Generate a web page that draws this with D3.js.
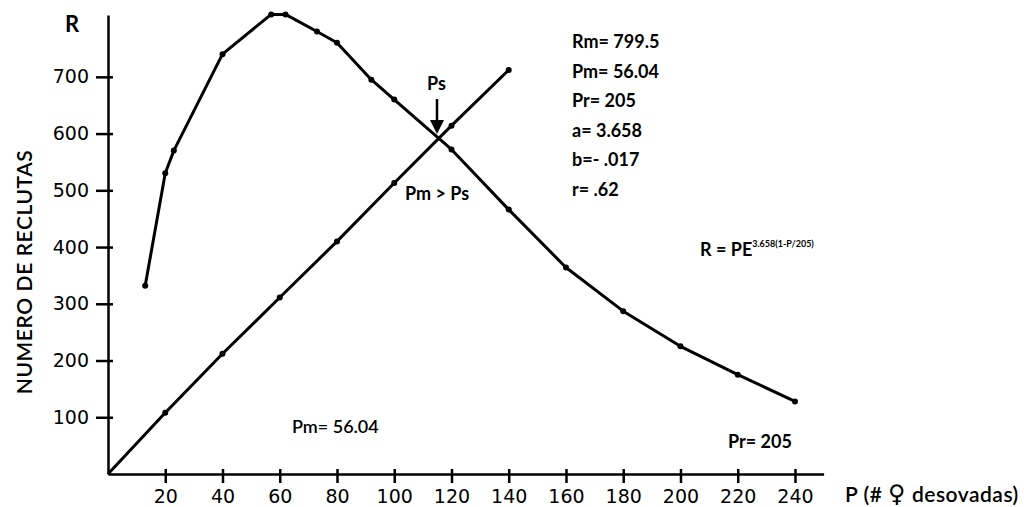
<!DOCTYPE html>
<html lang="es">
<head>
<meta charset="UTF-8">
<title>Reclutas vs desovadas</title>
<script src="https://cdn.jsdelivr.net/npm/d3@7/dist/d3.min.js"></script>
<style>
    body { margin: 0; background: #fff; }
    svg { display: block; font-family: Lato, "Open Sans", sans-serif; }
    path.line { fill: none; stroke: #000; stroke-width: 3px; stroke-linejoin: round; }
    .axis path, .axis line { stroke: #000; stroke-width: 2.5px; }
    .axis text { font-size: 19px; font-weight: normal; fill: #000; font-family: "DejaVu Sans", sans-serif; }
    text.note { font-weight: bold; fill: #000; }
</style>
</head>
<body>
<svg width="1024" height="507"></svg>
<script>
    // curva de reclutamiento (Ricker)
    let recP = [13, 20, 23, 40, 57, 62, 73, 80, 92, 100, 120, 140, 160, 180, 200, 220, 240]
    let recR = [332, 530, 570, 740, 810, 810, 780, 760, 695, 660, 572, 466, 364, 287, 225, 175, 128]
    // linea de reemplazo
    let repP = [0, 20, 40, 60, 80, 100, 120, 140]
    let repR = [0, 108, 212, 311, 410, 513, 614, 712]

    let xTicks = [20, 40, 60, 80, 100, 120, 140, 160, 180, 200, 220, 240]
    let yTicks = [100, 200, 300, 400, 500, 600, 700]
    let stats = ["Rm= 799.5", "Pm= 56.04", "Pr= 205", "a= 3.658", "b=- .017", "r= .62"]

    let svg = d3.select('svg')

    let xScale = d3.scaleLinear().domain([0, 250]).range([108, 823.6])
    let yScale = d3.scaleLinear().domain([0, 809]).range([474, 15])

    // ejes
    let xAxis = svg.append('g').attr('class', 'axis')
        .attr('transform', 'translate(0,' + yScale(0) + ')')
        .call(d3.axisBottom(xScale).tickValues(xTicks).tickSizeOuter(0))
    xAxis.selectAll('.tick line').attr('y1', -5).attr('y2', 9)
    xAxis.selectAll('.tick text').attr('y', 29).attr('dy', 0)

    let yAxis = svg.append('g').attr('class', 'axis')
        .attr('transform', 'translate(' + xScale(0) + ',0)')
        .call(d3.axisLeft(yScale).tickValues(yTicks).tickSizeOuter(0))
    yAxis.selectAll('.tick line').attr('x1', 5).attr('x2', -12)
    yAxis.selectAll('.tick text').attr('x', -19)

    // lineas
    let recData = d3.zip(recP, recR)
    let repData = d3.zip(repP, repR)
    let line = d3.line()
        .x(function (d) { return xScale(d[0]) })
        .y(function (d) { return yScale(d[1]) })

    svg.append('path').attr('class', 'line').attr('d', line(recData))
    svg.append('path').attr('class', 'line').attr('d', line(repData))

    svg.append('g').selectAll('circle')
        .data(recData.concat(repData.slice(1)))
        .join('circle')
        .attr('cx', function (d) { return xScale(d[0]) })
        .attr('cy', function (d) { return yScale(d[1]) })
        .attr('r', 3)
        .attr('fill', '#000')

    // textos
    svg.append('text').attr('class', 'note').attr('x', 65).attr('y', 32)
        .style('font-size', '22px').text('R')

    svg.append('text').attr('class', 'note')
        .attr('transform', 'translate(32,272) rotate(-90)')
        .attr('text-anchor', 'middle')
        .style('font-size', '21px').style('font-weight', 600)
        .style('letter-spacing', '0.6px')
        .text('NUMERO DE RECLUTAS')

    svg.append('g').selectAll('text')
        .data(stats)
        .join('text')
        .attr('class', 'note')
        .attr('x', 572)
        .attr('y', function (d, i) { return 48 + i * 29.6 })
        .style('font-size', '18px')
        .text(function (d) { return d })

    svg.append('text').attr('class', 'note').attr('x', 427).attr('y', 90)
        .style('font-size', '18px').text('Ps')
    svg.append('line').attr('x1', 437).attr('x2', 437).attr('y1', 99).attr('y2', 124)
        .attr('stroke', '#000').attr('stroke-width', 2.5)
    svg.append('path').attr('d', 'M430,120 L444,120 L437,134 Z').attr('fill', '#000')

    svg.append('text').attr('class', 'note').attr('x', 405).attr('y', 200)
        .style('font-size', '18px').text('Pm > Ps')

    let formula = svg.append('text').attr('class', 'note').attr('x', 700).attr('y', 256)
        .style('font-size', '18px')
    formula.append('tspan').text('R = PE')
    formula.append('tspan').attr('dy', -9).style('font-size', '9px').text('3.658(1-P/205)')

    svg.append('text').attr('class', 'note').attr('x', 292).attr('y', 433)
        .style('font-size', '18px').style('font-weight', 600).text('Pm= 56.04')
    svg.append('text').attr('class', 'note').attr('x', 728).attr('y', 448)
        .style('font-size', '18px').text('Pr= 205')

    let xLabel = svg.append('text').attr('x', 845).attr('y', 502)
        .style('font-size', '21px').style('font-weight', 600).style('letter-spacing', '0.5px')
    xLabel.append('tspan').text('P  (# ')
    xLabel.append('tspan').style('font-family', '"DejaVu Sans"').style('font-size', '24px').text('\u2640')
    xLabel.append('tspan').text(' desovadas)')
</script>
</body>
</html>
